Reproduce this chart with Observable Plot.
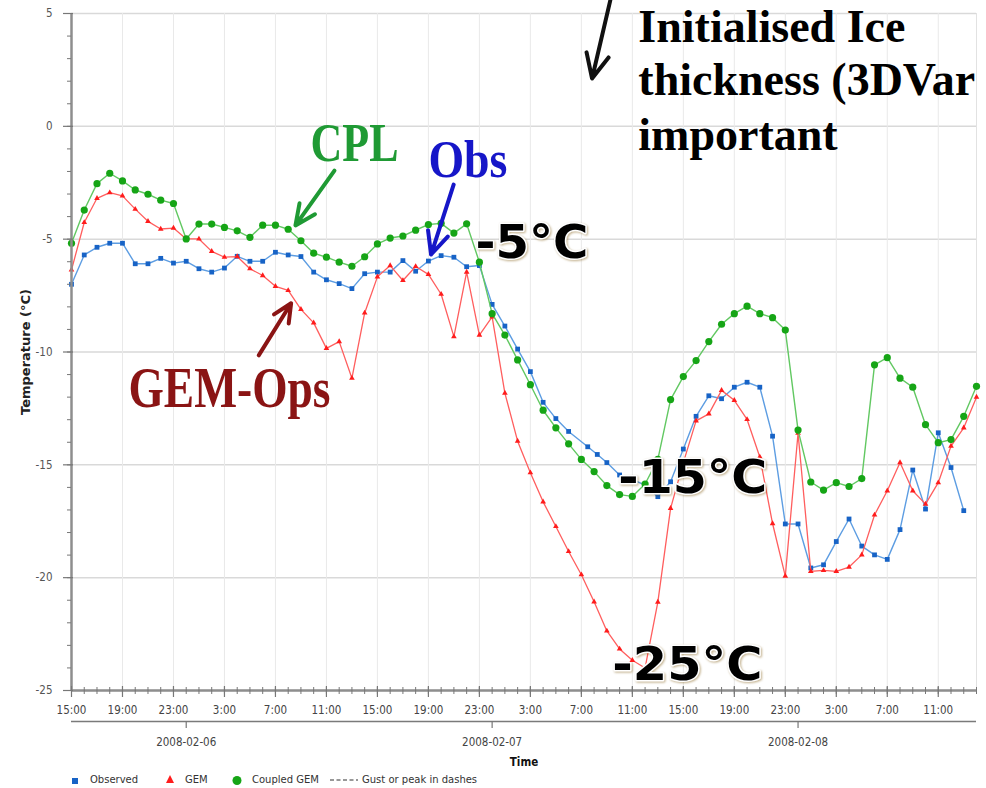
<!DOCTYPE html>
<html><head><meta charset="utf-8">
<script src="https://cdn.jsdelivr.net/npm/d3@7"></script>
<script src="https://cdn.jsdelivr.net/npm/@observablehq/plot@0.6"></script>
<style>
body{margin:0;background:#fff;}
#wrap{position:relative;width:986px;height:788px;overflow:hidden;background:#fff;}
#legend{position:absolute;left:0;top:770px;width:986px;height:18px;font:10px "DejaVu Sans",sans-serif;color:#333;}
#legend .it{position:absolute;top:3px;height:14px;line-height:14px;white-space:nowrap;}
#legend svg{position:absolute;top:0;}
.deg text{filter:drop-shadow(1px 1px 1px rgba(120,80,0,0.45));}
</style></head><body>
<div id="wrap"><div id="chart"></div><div id="legend"></div></div>
<script>
// ---------- data ----------
const startTime = Date.UTC(2008, 1, 5, 15); // 2008-02-05 15:00
const modelHours = [0,1,2,3,4,5,6,7,8,9,10,11,12,13,14,15,16,17,18,19,20,21,22,23,24,25,26,27,28,29,30,31,32,33,34,35,
  36,37,38,39,40,41,42,43,44,45,46,47,48,49,50,51,52,53,54,55,56,57,58,59,60,61,62,63,64,65,66,67,68,69,70,71];
const gemTemp = [-6.36,-4.26,-3.19,-2.94,-3.08,-3.67,-4.21,-4.55,-4.51,-4.99,
  -4.99,-5.54,-5.80,-5.77,-6.31,-6.61,-7.09,-7.27,-8.11,-8.71,
  -9.84,-9.54,-11.16,-8.27,-6.67,-6.17,-6.83,-6.21,-6.56,-7.44,
  -9.32,-6.46,-9.25,-8.44,-11.82,-13.95,-15.35,-16.64,-17.73,-18.84,
  -19.87,-21.07,-22.36,-23.16,-23.66,-24.0,-21.08,-16.93,-14.9,-13.05,
  -12.74,-11.70,-12.14,-12.99,-14.65,-17.60,-19.93,-13.6,-19.72,-19.68,
  -19.72,-19.53,-18.99,-17.22,-16.15,-14.90,-16.15,-16.74,-15.79,-14.17,
  -13.36,-12.0];
const cplTemp = [-5.18,-3.71,-2.54,-2.08,-2.42,-2.82,-3.01,-3.27,-3.42,-4.99,
  -4.33,-4.33,-4.48,-4.63,-4.92,-4.38,-4.38,-4.56,-5.07,-5.62,
  -5.80,-6.02,-6.20,-5.78,-5.21,-4.95,-4.86,-4.60,-4.35,-4.30,
  -4.73,-4.32,-6.02,-8.30,-9.25,-10.35,-11.45,-12.58,-13.36,-14.07,
  -14.76,-15.30,-15.92,-16.32,-16.40,-15.85,-14.76,-12.11,-11.09,-10.38,
  -9.54,-8.77,-8.30,-7.97,-8.30,-8.48,-9.03,-13.46,-15.76,-16.12,
  -15.79,-15.96,-15.61,-10.57,-10.25,-11.16,-11.56,-13.22,-14.02,-13.88,
  -12.85,-11.52];
const obsHours = [0,1,2,3,4,5,6,7,8,9,10,11,12,13,14,15,16,17,18,19,20,21,22,23,24,25,26,27,28,29,30,31,32,33,34,35,
  36,37,38,39,40.5,41.25,42,43,44,45,46,47,48,49,50,51,52,53,54,55,56,57,58,59,60,61,62,63,64,65,66,67,68,69,70];
const obsTemp = [-7.0,-5.70,-5.36,-5.18,-5.18,-6.09,-6.09,-5.85,-6.06,-5.98,
  -6.31,-6.46,-6.28,-5.76,-5.98,-5.98,-5.58,-5.70,-5.77,-6.46,
  -6.80,-6.97,-7.19,-6.53,-6.46,-6.46,-5.95,-6.42,-5.97,-5.73,
  -5.80,-6.22,-6.17,-7.89,-8.85,-9.87,-10.87,-12.23,-12.95,-13.52,
  -14.20,-14.54,
  -14.90,-15.45,-15.65,-15.90,-16.41,-15.75,-14.30,-12.85,-11.94,-12.07,
  -11.56,-11.34,-11.56,-13.73,-17.62,-17.62,-19.57,-19.43,-18.40,-17.40,
  -18.60,-18.99,-19.19,-17.87,-15.23,-16.96,-13.58,-15.12,-17.03];
const hourTickHours = [0,4,8,12,16,20,24,28,32,36,40,44,48,52,56,60,64,68];
const hourTickLabels = ["15:00","19:00","23:00","3:00","7:00","11:00","15:00","19:00","23:00","3:00","7:00","11:00","15:00","19:00","23:00","3:00","7:00","11:00"];
const dateTickHours = [9,33,57];
const dateTickLabels = ["2008-02-06","2008-02-07","2008-02-08"];
const yMajor = [-25,-20,-15,-10,-5,0,5];
const yMinor = [-25,-24,-23,-22,-21,-20,-19,-18,-17,-16,-15,-14,-13,-12,-11,-10,-9,-8,-7,-6,-5,-4,-3,-2,-1,0,1,2,3,4,5];
// annotations (data units: hour offset, temperature)
const noteLabels = ["CPL","Obs","GEM-Ops"];
const noteHours = [18.75, 28.0, 4.47];
const noteTemps = [-0.78, -1.51, -11.66];
const degLabels = ["-5°C","-15°C","-25°C"];
const degHours = [31.69, 42.9, 42.43];
const degTemps = [-5.15, -15.58, -23.89];
const iceLines = ["Initialised Ice","thickness (3DVar","important"];
const iceHour = 44.47;
const iceTemps = [4.38, 2.06, -0.38];
const arrowH1 = [20.63, 29.98, 14.69, 42.27];
const arrowV1 = [-1.96, -2.58, -10.15, 5.58];
const arrowH2 = [17.57, 28.21, 17.23, 40.84];
const arrowV2 = [-4.39, -5.68, -7.84, 2.12];

// ---------- build ----------
const toTime = h => new Date(startTime + h * 3600e3);
const obs = obsHours.map((h, i) => ({t: toTime(h), v: obsTemp[i]}));
const gem = modelHours.map((h, i) => ({t: toTime(h), v: gemTemp[i]}));
const cpl = modelHours.map((h, i) => ({t: toTime(h), v: cplTemp[i]}));
const hourTicks = hourTickHours.map((h, i) => ({t: toTime(h), label: hourTickLabels[i]}));
const minorTicks = modelHours.map(toTime);
const dateTicks = dateTickHours.map((h, i) => ({t: toTime(h), label: dateTickLabels[i]}));
const notes = noteLabels.map((s, i) => ({label: s, t: toTime(noteHours[i]), v: noteTemps[i]}));
const degs = degLabels.map((s, i) => ({label: s, t: toTime(degHours[i]), v: degTemps[i]}));
const ice = iceLines.map((s, i) => ({label: s, t: toTime(iceHour), v: iceTemps[i]}));
const arrowColors = ["#1f9a34", "#1616c8", "#8a1414", "#111"];
const arrows = arrowH1.map((h, i) => ({x1: toTime(h), y1: arrowV1[i], x2: toTime(arrowH2[i]), y2: arrowV2[i], c: arrowColors[i]}));

const tickFont = '"DejaVu Sans Condensed","DejaVu Sans",sans-serif';
const serif = '"Liberation Serif","Times New Roman",serif';
const frameH = 770 - 13 - 80;

const chart = Plot.plot({
  width: 986, height: 770,
  marginLeft: 71, marginRight: 10, marginTop: 13, marginBottom: 80,
  x: {type: "utc", domain: [toTime(0), toTime(71)], axis: null, label: null},
  y: {domain: [-25, 5], axis: null, label: null},
  color: {type: "identity"},
  style: {fontFamily: tickFont, fontSize: "11.5px", color: "#444", background: "#fff", overflow: "visible"},
  marks: [
    Plot.gridY(yMajor, {stroke: "#d9d9d9", strokeOpacity: 1, strokeWidth: 1.5}),
    Plot.gridX(hourTicks.map(d => d.t), {stroke: "#e9e9e9", strokeOpacity: 1, strokeWidth: 1}),
    Plot.ruleX([toTime(71)], {stroke: "#e2e2e2", strokeWidth: 1}),
    // series
    Plot.line(obs, {x: "t", y: "v", stroke: "#5d9de2", strokeWidth: 1.4}),
    Plot.dot(obs, {x: "t", y: "v", symbol: "square", r: 2.7, fill: "#1763c6"}),
    Plot.line(gem, {x: "t", y: "v", stroke: "#ff5e5e", strokeWidth: 1.3}),
    Plot.dot(gem, {x: "t", y: "v", symbol: "triangle", r: 2.1, fill: "#ff1c1c"}),
    Plot.line(cpl, {x: "t", y: "v", stroke: "#62c862", strokeWidth: 1.4}),
    Plot.dot(cpl, {x: "t", y: "v", r: 3.6, fill: "#16a516"}),
    // axes lines
    Plot.ruleX([toTime(0)], {stroke: "#8e8e8e", strokeWidth: 2.5}),
    Plot.ruleY([-25], {stroke: "#8e8e8e", strokeWidth: 2.5}),
    // y ticks + labels
    Plot.tickY(yMinor, {y: d => d, stroke: "#777", insetLeft: -4, insetRight: 905}),
    Plot.tickY(yMajor, {y: d => d, stroke: "#777", insetLeft: -8, insetRight: 903, strokeWidth: 1.2}),
    Plot.text(yMajor, {y: d => d, text: d => String(d), frameAnchor: "left", dx: -19, textAnchor: "end", lineAnchor: "middle", fill: "#555"}),
    // x ticks + labels
    Plot.tickX(minorTicks, {x: d => d, stroke: "#777", insetTop: frameH - 3, insetBottom: -4}),
    Plot.tickX(hourTicks, {x: "t", stroke: "#777", insetTop: frameH - 4, insetBottom: -7, strokeWidth: 1.2}),
    Plot.text(hourTicks, {x: "t", text: "label", frameAnchor: "bottom", dy: 20, lineAnchor: "middle", fill: "#444"}),
    Plot.ruleY([-25], {dy: 31, stroke: "#7a7a7a", strokeWidth: 1.5}),
    Plot.tickX(dateTicks, {x: "t", dy: 31, stroke: "#777", insetTop: frameH, insetBottom: -7, strokeWidth: 1.2}),
    Plot.text(dateTicks, {x: "t", text: "label", frameAnchor: "bottom", dy: 52, lineAnchor: "middle", fill: "#444"}),
    Plot.text(["Time"], {frameAnchor: "bottom", dy: 72, lineAnchor: "middle", fontWeight: "bold", fill: "#111", fontSize: 11.5}),
    Plot.text(["Temperature (°C)"], {frameAnchor: "left", dx: -46, rotate: -90, textAnchor: "middle", lineAnchor: "middle", fontWeight: "bold", fill: "#222", fontSize: 13, fontFamily: '"DejaVu Sans",sans-serif'}),
    // annotation arrows
    Plot.arrow(arrows, {x1: "x1", y1: "y1", x2: "x2", y2: "y2", stroke: "c", strokeWidth: 4, headLength: 12, headAngle: 50}),
    // annotation texts
    Plot.text(notes.filter(d => d.label === "CPL"), {x: "t", y: "v", text: "label", textAnchor: "start", lineAnchor: "middle", fill: "#1f9a34", fontFamily: serif, fontWeight: "bold", fontSize: 54, className: "ann"}),
    Plot.text(notes.filter(d => d.label === "Obs"), {x: "t", y: "v", text: "label", textAnchor: "start", lineAnchor: "middle", fill: "#1616c8", fontFamily: serif, fontWeight: "bold", fontSize: 52, className: "ann"}),
    Plot.text(notes.filter(d => d.label === "GEM-Ops"), {x: "t", y: "v", text: "label", textAnchor: "start", lineAnchor: "middle", fill: "#8a1414", fontFamily: serif, fontWeight: "bold", fontSize: 56, className: "ann"}),
    Plot.text(degs, {x: "t", y: "v", text: "label", textAnchor: "start", lineAnchor: "middle", fill: "#000", stroke: "#fff", strokeWidth: 3, fontFamily: '"DejaVu Sans",sans-serif', fontWeight: "bold", fontSize: 47, className: "deg"}),
    Plot.text(ice, {x: "t", y: "v", text: "label", textAnchor: "start", lineAnchor: "middle", fill: "#000", fontFamily: serif, fontWeight: "bold", fontSize: 46})
  ]
});
document.getElementById("chart").appendChild(chart);

// compress annotation glyphs to match the reference proportions
const fitWidths = {"CPL": 88, "Obs": 79, "GEM-Ops": 202, "-5°C": 113, "-15°C": 149, "-25°C": 150};
d3.select(chart).selectAll("g.ann text, g.deg text").each(function () {
  const w = fitWidths[this.textContent];
  if (w) { this.setAttribute("textLength", w); this.setAttribute("lengthAdjust", "spacingAndGlyphs"); }
});

// ---------- legend ----------
const legendItems = [
  {label: "Observed", sym: '<rect x="2" y="8" width="6" height="6" fill="#1763c6"/>', symX: 70, textX: 90},
  {label: "GEM", sym: '<polygon points="5,5 1,13 9,13" fill="#ff1c1c"/>', symX: 165, textX: 185},
  {label: "Coupled GEM", sym: '<circle cx="5" cy="10.5" r="4.5" fill="#16a516"/>', symX: 232, textX: 252},
  {label: "Gust or peak in dashes", sym: '<line x1="0" y1="10" x2="28" y2="10" stroke="#333" stroke-width="1.2" stroke-dasharray="4,2.5"/>', symX: 330, textX: 362, w: 30}
];
const lg = document.getElementById("legend");
legendItems.forEach(it => {
  const w = it.w || 10;
  lg.insertAdjacentHTML("beforeend", `<svg style="left:${it.symX}px" width="${w}" height="18">${it.sym}</svg><span class="it" style="left:${it.textX}px">${it.label}</span>`);
});
</script>
</body></html>
